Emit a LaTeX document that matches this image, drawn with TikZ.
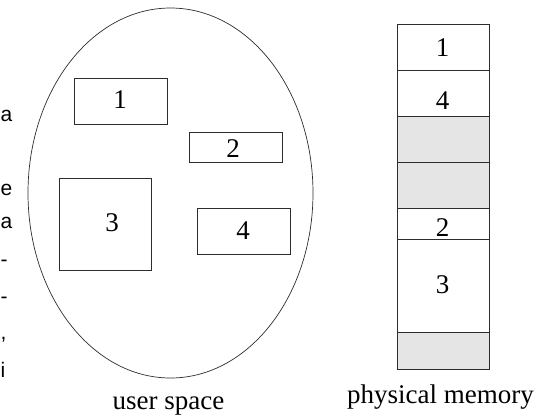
\documentclass[tikz,border=0pt]{standalone}
\usepackage{fontspec}
\setmainfont{Liberation Serif}
\newfontfamily\sidefont{Liberation Sans}
\usetikzlibrary{shapes.geometric}
\definecolor{freegray}{RGB}{229,229,229}
\definecolor{edgegray}{RGB}{45,45,45}
\tikzset{block/.style={draw=edgegray,line width=0.9pt,inner sep=0pt}}
\tikzset{hole/.style={block,fill=freegray}}
\tikzset{num/.style={font=\fontsize{27}{32}\selectfont,inner sep=0pt}}
\tikzset{side/.style={font=\sidefont\fontsize{21}{25}\selectfont,inner sep=0pt,anchor=base west}}

\begin{document}
\begin{tikzpicture}[x=1pt,y=-1pt]
                \useasboundingbox (0,0) rectangle (555,416);

                % Text of the next column
                \node[side] (t1) at (0.5,121) {a};
                \node[side] (t2) at (0.5,195.5) {e};
                \node[side] (t3) at (0.5,228.5) {a};
                \node[side] (t4) at (0.5,266) {-};
                \node[side] (t5) at (0.5,303) {-};
                \node[side] (t6) at (0.5,339) {,};
                \node[side] (t7) at (0.5,377) {i};

                % User space
                \node[draw=edgegray,line width=0.7pt,ellipse,inner sep=0pt,minimum width=285pt,minimum height=370pt] (uspace) at (170.5,193) {};
                \node[block,minimum width=93pt,minimum height=46pt] (u1) at (120.5,101) {};
                \node[block,minimum width=93pt,minimum height=30pt] (u2) at (235.5,147) {};
                \node[block,minimum width=92pt,minimum height=92pt] (u3) at (105,224) {};
                \node[block,minimum width=93pt,minimum height=46pt] (u4) at (243.5,231) {};
                \node[num] (l1) at (120,99.5) {1};
                \node[num] (l2) at (233,149) {2};
                \node[num] (l3) at (112,223) {3};
                \node[num] (l4) at (243,230.5) {4};

                % Physical memory
                \node[block,minimum width=92pt,minimum height=46pt] (m1) at (443,47) {};
                \node[block,minimum width=92pt,minimum height=46pt] (m2) at (443,93) {};
                \node[hole,minimum width=92pt,minimum height=46pt] (m3) at (443,139) {};
                \node[hole,minimum width=92pt,minimum height=46pt] (m4) at (443,185) {};
                \node[block,minimum width=92pt,minimum height=31pt] (m5) at (443,223.5) {};
                \node[block,minimum width=92pt,minimum height=93pt] (m6) at (443,285.5) {};
                \node[hole,minimum width=92pt,minimum height=37pt] (m7) at (443,350.5) {};
                \node[num] (p1) at (442.5,47.5) {1};
                \node[num] (p4) at (442.5,100.5) {4};
                \node[num] (p2) at (442.5,227.5) {2};
                \node[num] (p3) at (442.5,285) {3};

                % Labels
                \node[num,anchor=base] (ulabel) at (168.5,409) {user space};
                \node[num,anchor=base] (plabel) at (440.5,403) {physical memory};
\end{tikzpicture}
\end{document}
